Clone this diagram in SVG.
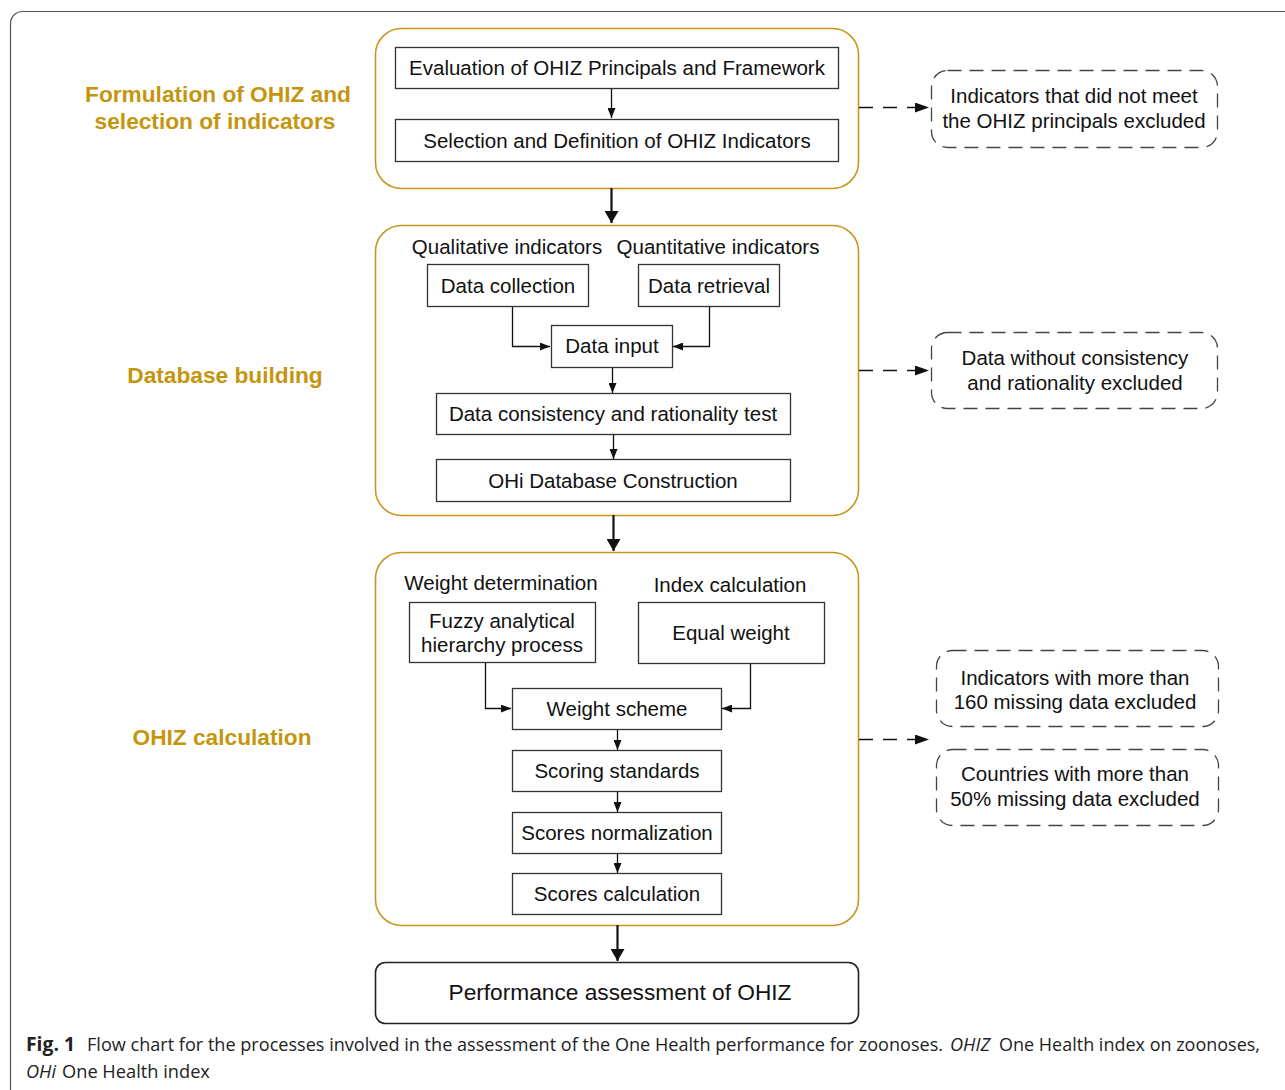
<svg xmlns="http://www.w3.org/2000/svg" width="1285" height="1090" viewBox="0 0 1285 1090">
<style>
text{font-family:"Liberation Sans",Arial,sans-serif;fill:#111;}
.t{font-size:20.5px;text-anchor:middle;dominant-baseline:central;}
.lbl{font-size:22.7px;font-weight:bold;fill:#C4960F;text-anchor:middle;dominant-baseline:central;}
.grp{fill:none;stroke:#C8961E;stroke-width:1.6;}
.box{fill:#fff;stroke:#333;stroke-width:1.3;}
.dbox{fill:none;stroke:#444;stroke-width:1.3;stroke-dasharray:14 8;}
.ln{fill:none;stroke:#111;stroke-width:1.3;}
.thick{fill:none;stroke:#111;stroke-width:2.2;}
.dl{fill:none;stroke:#111;stroke-width:1.5;stroke-dasharray:14 10;}
.cap{font-family:"Open Sans","Noto Sans",sans-serif;font-size:19px;fill:#222;}
</style>
<defs>
<marker id="ah" viewBox="0 0 10 8" refX="10" refY="4" markerWidth="10" markerHeight="8" markerUnits="userSpaceOnUse" orient="auto"><path d="M0,0 L10,4 L0,8 Z" fill="#111"/></marker>
<marker id="ahd" viewBox="0 0 14 10" refX="14" refY="5" markerWidth="14" markerHeight="10" markerUnits="userSpaceOnUse" orient="auto"><path d="M0,0 L14,5 L0,10 Z" fill="#111"/></marker>
<marker id="ahb" viewBox="0 0 12 14" refX="12" refY="7" markerWidth="12" markerHeight="14" markerUnits="userSpaceOnUse" orient="auto"><path d="M0,0 L12,7 L0,14 Z" fill="#111"/></marker>
</defs>
<rect x="10.5" y="11.5" width="1300" height="1100" rx="12" fill="none" stroke="#555" stroke-width="1.2"/>

<g id="stage-labels">
<text class="lbl" x="218" y="94">Formulation of OHIZ and</text>
<text class="lbl" x="215" y="121">selection of indicators</text>
<text class="lbl" x="225" y="375">Database building</text>
<text class="lbl" x="222" y="737">OHIZ calculation</text>
</g>

<g id="group-formulation"><rect class="grp" x="375.5" y="28.5" width="483" height="160" rx="26"/></g>
<g id="group-database"><rect class="grp" x="375.5" y="225.5" width="483" height="290" rx="26"/></g>
<g id="group-calculation"><rect class="grp" x="375.5" y="552.5" width="483" height="373" rx="26"/></g>

<g id="connectors">
<line class="ln" x1="611.5" y1="88" x2="611.5" y2="118" marker-end="url(#ah)"/>
<line class="thick" x1="611.5" y1="188" x2="611.5" y2="223" marker-end="url(#ahb)"/>
<path class="ln" d="M512.5,306 V346.5 H550" marker-end="url(#ah)"/>
<path class="ln" d="M709.5,306 V346.5 H673" marker-end="url(#ah)"/>
<line class="ln" x1="612.5" y1="367" x2="612.5" y2="393" marker-end="url(#ah)"/>
<line class="ln" x1="613.5" y1="434" x2="613.5" y2="459" marker-end="url(#ah)"/>
<line class="thick" x1="613.5" y1="515" x2="613.5" y2="551" marker-end="url(#ahb)"/>
<path class="ln" d="M485.5,662 V708.5 H511" marker-end="url(#ah)"/>
<path class="ln" d="M750.5,663 V708.5 H722" marker-end="url(#ah)"/>
<line class="ln" x1="617.5" y1="729" x2="617.5" y2="750" marker-end="url(#ah)"/>
<line class="ln" x1="617.5" y1="791" x2="617.5" y2="812" marker-end="url(#ah)"/>
<line class="ln" x1="617.5" y1="853" x2="617.5" y2="873" marker-end="url(#ah)"/>
<line class="thick" x1="617.5" y1="925" x2="617.5" y2="961" marker-end="url(#ahb)"/>
<line class="dl" x1="859" y1="107.5" x2="929" y2="107.5" marker-end="url(#ahd)"/>
<line class="dl" x1="859" y1="370.5" x2="929" y2="370.5" marker-end="url(#ahd)"/>
<line class="dl" x1="859" y1="739.5" x2="929" y2="739.5" marker-end="url(#ahd)"/>
</g>

<g id="n-evaluation"><rect class="box" x="395.5" y="47.5" width="443" height="41"/><text class="t" x="617" y="67">Evaluation of OHIZ Principals and Framework</text></g>
<g id="n-selection"><rect class="box" x="395.5" y="119.5" width="443" height="42"/><text class="t" x="617" y="140">Selection and Definition of OHIZ Indicators</text></g>

<g id="n-qual-label"><text class="t" x="507" y="246">Qualitative indicators</text></g>
<g id="n-quant-label"><text class="t" x="718" y="246">Quantitative indicators</text></g>
<g id="n-collection"><rect class="box" x="427.5" y="264.5" width="161" height="42"/><text class="t" x="508" y="285">Data collection</text></g>
<g id="n-retrieval"><rect class="box" x="638.5" y="264.5" width="141" height="42"/><text class="t" x="709" y="285">Data retrieval</text></g>
<g id="n-input"><rect class="box" x="551.5" y="325.5" width="121" height="42"/><text class="t" x="612" y="345">Data input</text></g>
<g id="n-consistency"><rect class="box" x="436.5" y="393.5" width="354" height="41"/><text class="t" x="613" y="413">Data consistency and rationality test</text></g>
<g id="n-ohi-db"><rect class="box" x="436.5" y="459.5" width="354" height="42"/><text class="t" x="613" y="480">OHi Database Construction</text></g>

<g id="n-weight-label"><text class="t" x="501" y="582">Weight determination</text></g>
<g id="n-index-label"><text class="t" x="730" y="584">Index calculation</text></g>
<g id="n-fuzzy"><rect class="box" x="409.5" y="602.5" width="186" height="60"/><text class="t" x="502" y="620">Fuzzy analytical</text><text class="t" x="502" y="644">hierarchy process</text></g>
<g id="n-equal"><rect class="box" x="638.5" y="602.5" width="186" height="61"/><text class="t" x="731" y="632">Equal weight</text></g>
<g id="n-scheme"><rect class="box" x="512.5" y="688.5" width="209" height="41"/><text class="t" x="617" y="708">Weight scheme</text></g>
<g id="n-scoring"><rect class="box" x="512.5" y="750.5" width="209" height="41"/><text class="t" x="617" y="770">Scoring standards</text></g>
<g id="n-normalization"><rect class="box" x="512.5" y="812.5" width="209" height="41"/><text class="t" x="617" y="832">Scores normalization</text></g>
<g id="n-scores-calc"><rect class="box" x="512.5" y="873.5" width="209" height="41"/><text class="t" x="617" y="893">Scores calculation</text></g>

<g id="n-performance"><rect x="375.5" y="962.5" width="483" height="61" rx="10" fill="#fff" stroke="#222" stroke-width="1.6"/><text class="t" x="620" y="992" style="font-size:22.7px">Performance assessment of OHIZ</text></g>

<g id="n-excl-1"><rect class="dbox" x="931.5" y="70.5" width="286" height="77" rx="16"/><text class="t" x="1074" y="95">Indicators that did not meet</text><text class="t" x="1074" y="120">the OHIZ principals excluded</text></g>
<g id="n-excl-2"><rect class="dbox" x="931.5" y="332.5" width="286" height="76" rx="16"/><text class="t" x="1075" y="357">Data without consistency</text><text class="t" x="1075" y="382">and rationality excluded</text></g>
<g id="n-excl-3"><rect class="dbox" x="936.5" y="650.5" width="282" height="76" rx="16"/><text class="t" x="1075" y="677">Indicators with more than</text><text class="t" x="1075" y="701">160 missing data excluded</text></g>
<g id="n-excl-4"><rect class="dbox" x="936.5" y="749.5" width="282" height="76" rx="16"/><text class="t" x="1075" y="773">Countries with more than</text><text class="t" x="1075" y="798">50% missing data excluded</text></g>

<g id="caption" transform="scale(0.87,1)">
<text class="cap" x="29.9" y="1051" font-weight="bold" textLength="56.3" lengthAdjust="spacingAndGlyphs">Fig. 1</text>
<text class="cap" x="100" y="1051" textLength="984" lengthAdjust="spacingAndGlyphs">Flow chart for the processes involved in the assessment of the One Health performance for zoonoses.</text>
<text class="cap" x="1092" y="1051" font-style="italic" textLength="46" lengthAdjust="spacingAndGlyphs">OHIZ</text>
<text class="cap" x="1148.3" y="1051" textLength="300" lengthAdjust="spacingAndGlyphs">One Health index on zoonoses,</text>
<text class="cap" x="29.9" y="1078" font-style="italic" textLength="34.5" lengthAdjust="spacingAndGlyphs">OHi</text>
<text class="cap" x="71.3" y="1078" textLength="170" lengthAdjust="spacingAndGlyphs">One Health index</text>
</g>
</svg>
